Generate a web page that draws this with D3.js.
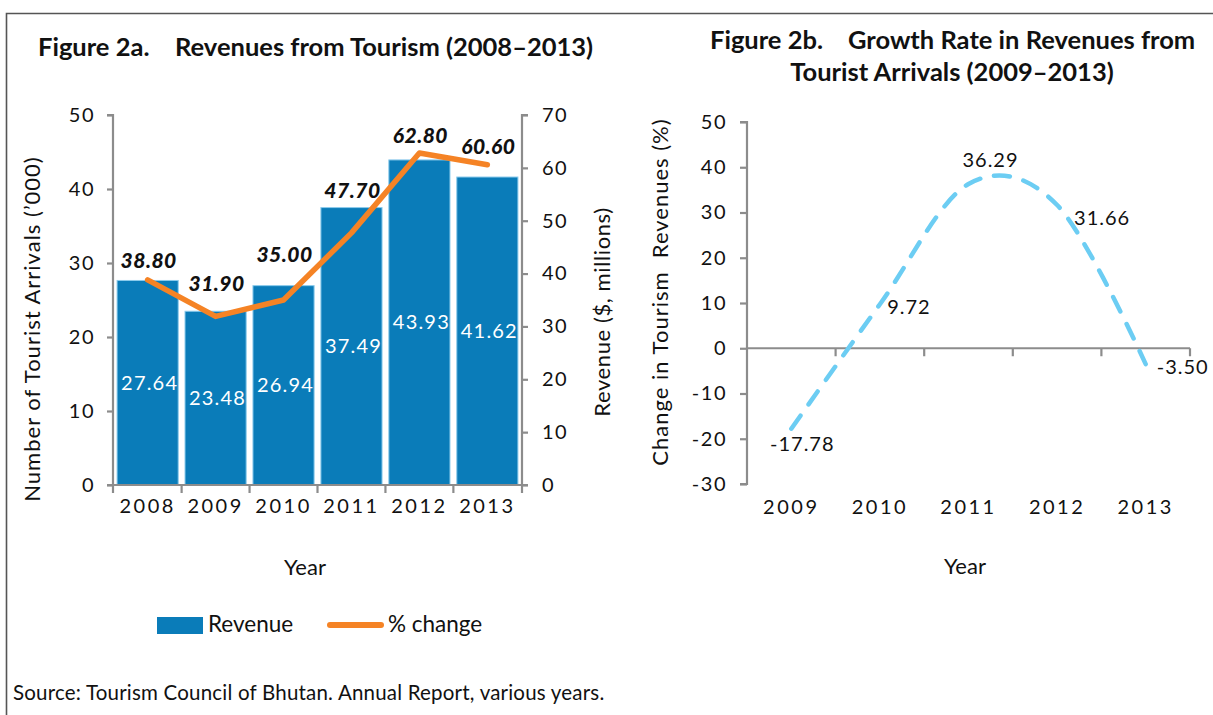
<!DOCTYPE html>
<html>
<head>
<meta charset="utf-8">
<script src="https://cdn.jsdelivr.net/npm/d3@7"></script>
<style>
  html, body { margin: 0; padding: 0; background: #fff; }
  svg { display: block; font-family: Lato, "Open Sans", sans-serif; }
  text { fill: #111; }
</style>
</head>
<body>
<svg id="chart" width="1213" height="715"></svg>
<script>
// ---------- data ----------
const years = ["2008", "2009", "2010", "2011", "2012", "2013"];
const arrivals = [27.64, 23.48, 26.94, 37.49, 43.93, 41.62];      // bars, left axis ('000)
const revenue = [38.80, 31.90, 35.00, 47.70, 62.80, 60.60];        // line, right axis ($ millions)
const arrivalTicks = [0, 10, 20, 30, 40, 50];
const revenueTicks = [0, 10, 20, 30, 40, 50, 60, 70];

const growthYears = ["2009", "2010", "2011", "2012", "2013"];
const growth = [-17.78, 9.72, 36.29, 31.66, -3.50];
const growthTicks = [-30, -20, -10, 0, 10, 20, 30, 40, 50];

// ---------- setup ----------
const svg = d3.select("#chart");
const BLUE = "#0A7CB9", ORANGE = "#F58325", SKY = "#6CCDF3", AXIS = "#8c8c8c";
const fmt2 = v => (v < 0 ? "-" : "") + d3.format(".2f")(Math.abs(v));
const fmtTick = v => (v < 0 ? "-" : "") + Math.abs(v);

// frame
svg.append("path")
  .attr("d", "M6.5,715 V13.5 H1213")
  .attr("fill", "none").attr("stroke", "#555").attr("stroke-width", 1.6);

// ================= Figure 2a =================
const L = { left: 113, right: 522, top: 115, bottom: 485 };
const x = d3.scaleBand().domain(years).range([L.left, L.right]).paddingInner(0.1).paddingOuter(0.06);
const yL = d3.scaleLinear().domain([0, 50]).range([L.bottom, L.top]);
const yR = d3.scaleLinear().domain([0, 70]).range([L.bottom, L.top]);

const gA = svg.append("g");

// title
const tA = gA.append("text").attr("y", 56).style("font-size", "25.5px").style("font-weight", 700);
tA.append("tspan").attr("x", 38).text("Figure 2a.");
tA.append("tspan").attr("x", 175).text("Revenues from Tourism (2008–2013)");

// bars
gA.selectAll("rect.bar").data(years).join("rect")
  .attr("class", "bar")
  .attr("x", d => x(d))
  .attr("width", x.bandwidth())
  .attr("y", (d, i) => yL(arrivals[i]))
  .attr("height", (d, i) => yL(0) - yL(arrivals[i]))
  .attr("fill", BLUE)
  .attr("stroke", "#8ccbec").attr("stroke-width", 1);

// bar labels
gA.selectAll("text.barlab").data(years).join("text")
  .attr("class", "barlab")
  .attr("x", d => x(d) + x.bandwidth() / 2 + 2)
  .attr("y", (d, i) => (yL(arrivals[i]) + yL(0)) / 2 + 7)
  .attr("text-anchor", "middle")
  .style("font-size", "20px").style("letter-spacing", "1.2px").style("fill", "#fff")
  .text((d, i) => fmt2(arrivals[i]));

// left axis
const axL = gA.append("g").attr("transform", `translate(${L.left},0)`)
  .call(d3.axisLeft(yL).tickValues(arrivalTicks).tickSize(6).tickPadding(12).tickFormat(fmtTick));
// right axis
const axR = gA.append("g").attr("transform", `translate(${L.right},0)`)
  .call(d3.axisRight(yR).tickValues(revenueTicks).tickSize(6).tickPadding(14).tickFormat(fmtTick));
// bottom axis
const axB = gA.append("g").attr("transform", `translate(0,${L.bottom})`)
  .call(d3.axisBottom(x).tickSize(0).tickPadding(10));
// boundary ticks for category axis
const boundsA = years.map(d => x(d) - x.step() * x.paddingInner() / 2).concat([L.right]);
boundsA[0] = L.left;
axB.selectAll("line.btick").data(boundsA).join("line")
  .attr("class", "btick")
  .attr("x1", d => d).attr("x2", d => d).attr("y1", 0).attr("y2", 8);

[axL, axR, axB].forEach(a => {
  a.select(".domain").attr("stroke", AXIS).attr("stroke-width", 2.2);
  a.selectAll("line").attr("stroke", AXIS).attr("stroke-width", 2.2);
  a.selectAll("text").style("font-size", "20px").style("fill", "#111")
    .style("font-family", "Lato, sans-serif").style("letter-spacing", "1.5px");
});
axL.select(".domain").attr("d", `M-6,${L.top}H0V${L.bottom}H-6`);
axR.select(".domain").attr("d", `M6,${L.top}H0V${L.bottom}H6`);
axB.select(".domain").attr("d", `M${L.left},0H${L.right}`);
axB.selectAll(".tick text").attr("dy", "0.9em").style("letter-spacing", "2.5px");

// revenue line
const lineA = d3.line()
  .x((d, i) => x(years[i]) + x.bandwidth() / 2)
  .y(d => yR(d));
gA.append("path").datum(revenue)
  .attr("d", lineA)
  .attr("fill", "none").attr("stroke", ORANGE).attr("stroke-width", 5.5)
  .attr("stroke-linejoin", "round").attr("stroke-linecap", "round");

// line labels (offset above each point)
const lineLabelLift = [12, 25, 38, 35, 10, 11];
gA.selectAll("text.linelab").data(revenue).join("text")
  .attr("class", "linelab")
  .attr("x", (d, i) => x(years[i]) + x.bandwidth() / 2 + 1)
  .attr("y", (d, i) => yR(d) - lineLabelLift[i])
  .attr("text-anchor", "middle")
  .style("font-size", "21px").style("font-weight", 900).style("font-style", "italic")
  .style("letter-spacing", "0.5px")
  .text(d => fmt2(d));

// axis titles
gA.append("text")
  .attr("transform", `translate(40,329) rotate(-90)`)
  .attr("text-anchor", "middle").style("font-size", "22px").style("letter-spacing", "1px")
  .text("Number of Tourist Arrivals (’000)");
gA.append("text")
  .attr("transform", `translate(610,312) rotate(-90)`)
  .attr("text-anchor", "middle").style("font-size", "22px").style("letter-spacing", "0.6px")
  .text("Revenue ($, millions)");
gA.append("text").attr("x", 305).attr("y", 575).attr("text-anchor", "middle")
  .style("font-size", "22px").text("Year");

// legend
gA.append("rect").attr("x", 157).attr("y", 617).attr("width", 46).attr("height", 17).attr("fill", BLUE);
gA.append("text").attr("x", 208).attr("y", 632).style("font-size", "22.5px").text("Revenue");
gA.append("line").attr("x1", 330).attr("x2", 381).attr("y1", 625).attr("y2", 625)
  .attr("stroke", ORANGE).attr("stroke-width", 6).attr("stroke-linecap", "round");
gA.append("text").attr("x", 388).attr("y", 632).style("font-size", "22.5px").text("% change");

// source
svg.append("text").attr("x", 13).attr("y", 700).style("font-size", "20.5px").style("letter-spacing", "0.2px")
  .text("Source: Tourism Council of Bhutan. Annual Report, various years.");

// ================= Figure 2b =================
const R = { left: 747, right: 1190, top: 122, bottom: 484 };
const xg = d3.scaleBand().domain(growthYears).range([R.left, R.right]).padding(0);
const yg = d3.scaleLinear().domain([-30, 50]).range([R.bottom, R.top]);
const gB = svg.append("g");

// title
const tB = gB.append("text").attr("y", 49).style("font-size", "25.5px").style("font-weight", 700);
tB.append("tspan").attr("x", 710).text("Figure 2b.");
tB.append("tspan").attr("x", 848).text("Growth Rate in Revenues from");
gB.append("text").attr("x", 952).attr("y", 81).attr("text-anchor", "middle")
  .style("font-size", "25.5px").style("font-weight", 700)
  .text("Tourist Arrivals (2009–2013)");

// y axis
const axG = gB.append("g").attr("transform", `translate(${R.left},0)`)
  .call(d3.axisLeft(yg).tickValues(growthTicks).tickSize(7).tickPadding(13).tickFormat(fmtTick));
// x axis at zero
const axX = gB.append("g").attr("transform", `translate(0,${yg(0)})`)
  .call(d3.axisBottom(xg).tickSize(0).tickFormat(() => ""));
const boundsB = growthYears.map(d => xg(d)).concat([R.right]);
axX.selectAll("line.btick").data(boundsB.slice(1)).join("line")
  .attr("class", "btick")
  .attr("x1", d => d).attr("x2", d => d).attr("y1", 0).attr("y2", 8);
// category labels at bottom
gB.selectAll("text.xlab").data(growthYears).join("text")
  .attr("class", "xlab")
  .attr("x", d => xg(d) + xg.bandwidth() / 2)
  .attr("y", 514)
  .attr("text-anchor", "middle")
  .style("font-size", "20px").style("letter-spacing", "2.5px")
  .text(d => d);

[axG, axX].forEach(a => {
  a.select(".domain").attr("stroke", AXIS).attr("stroke-width", 2.2);
  a.selectAll("line").attr("stroke", AXIS).attr("stroke-width", 2.2);
  a.selectAll("text").style("font-size", "20px").style("fill", "#111")
    .style("font-family", "Lato, sans-serif").style("letter-spacing", "1.5px");
});
axG.select(".domain").attr("d", `M-7,${R.top}H0V${R.bottom}H-7`);
axX.select(".domain").attr("d", `M${R.left},0H${R.right}`);

// smooth dashed growth line
const lineB = d3.line()
  .x((d, i) => xg(growthYears[i]) + xg.bandwidth() / 2)
  .y(d => yg(d))
  .curve(d3.curveCatmullRom.alpha(0));
gB.append("path").datum(growth)
  .attr("d", lineB)
  .attr("fill", "none").attr("stroke", SKY).attr("stroke-width", 4.5)
  .attr("stroke-dasharray", "16,14").attr("stroke-linecap", "round");

// labels
const growthLabelShift = [[11, 22], [29, 10], [22, -17], [45, 20], [37, 10]];
gB.selectAll("text.glab").data(growth).join("text")
  .attr("class", "glab")
  .attr("x", (d, i) => xg(growthYears[i]) + xg.bandwidth() / 2 + growthLabelShift[i][0])
  .attr("y", (d, i) => yg(d) + growthLabelShift[i][1])
  .attr("text-anchor", "middle")
  .style("font-size", "20px").style("letter-spacing", "1px")
  .text(d => fmt2(d));

// titles
gB.append("text")
  .attr("transform", `translate(668,292) rotate(-90)`)
  .attr("text-anchor", "middle").style("font-size", "22px").style("letter-spacing", "1px")
  .style("white-space", "pre")
  .text("Change in Tourism  Revenues (%)");
gB.append("text").attr("x", 965).attr("y", 574).attr("text-anchor", "middle")
  .style("font-size", "22px").text("Year");
</script>
</body>
</html>
